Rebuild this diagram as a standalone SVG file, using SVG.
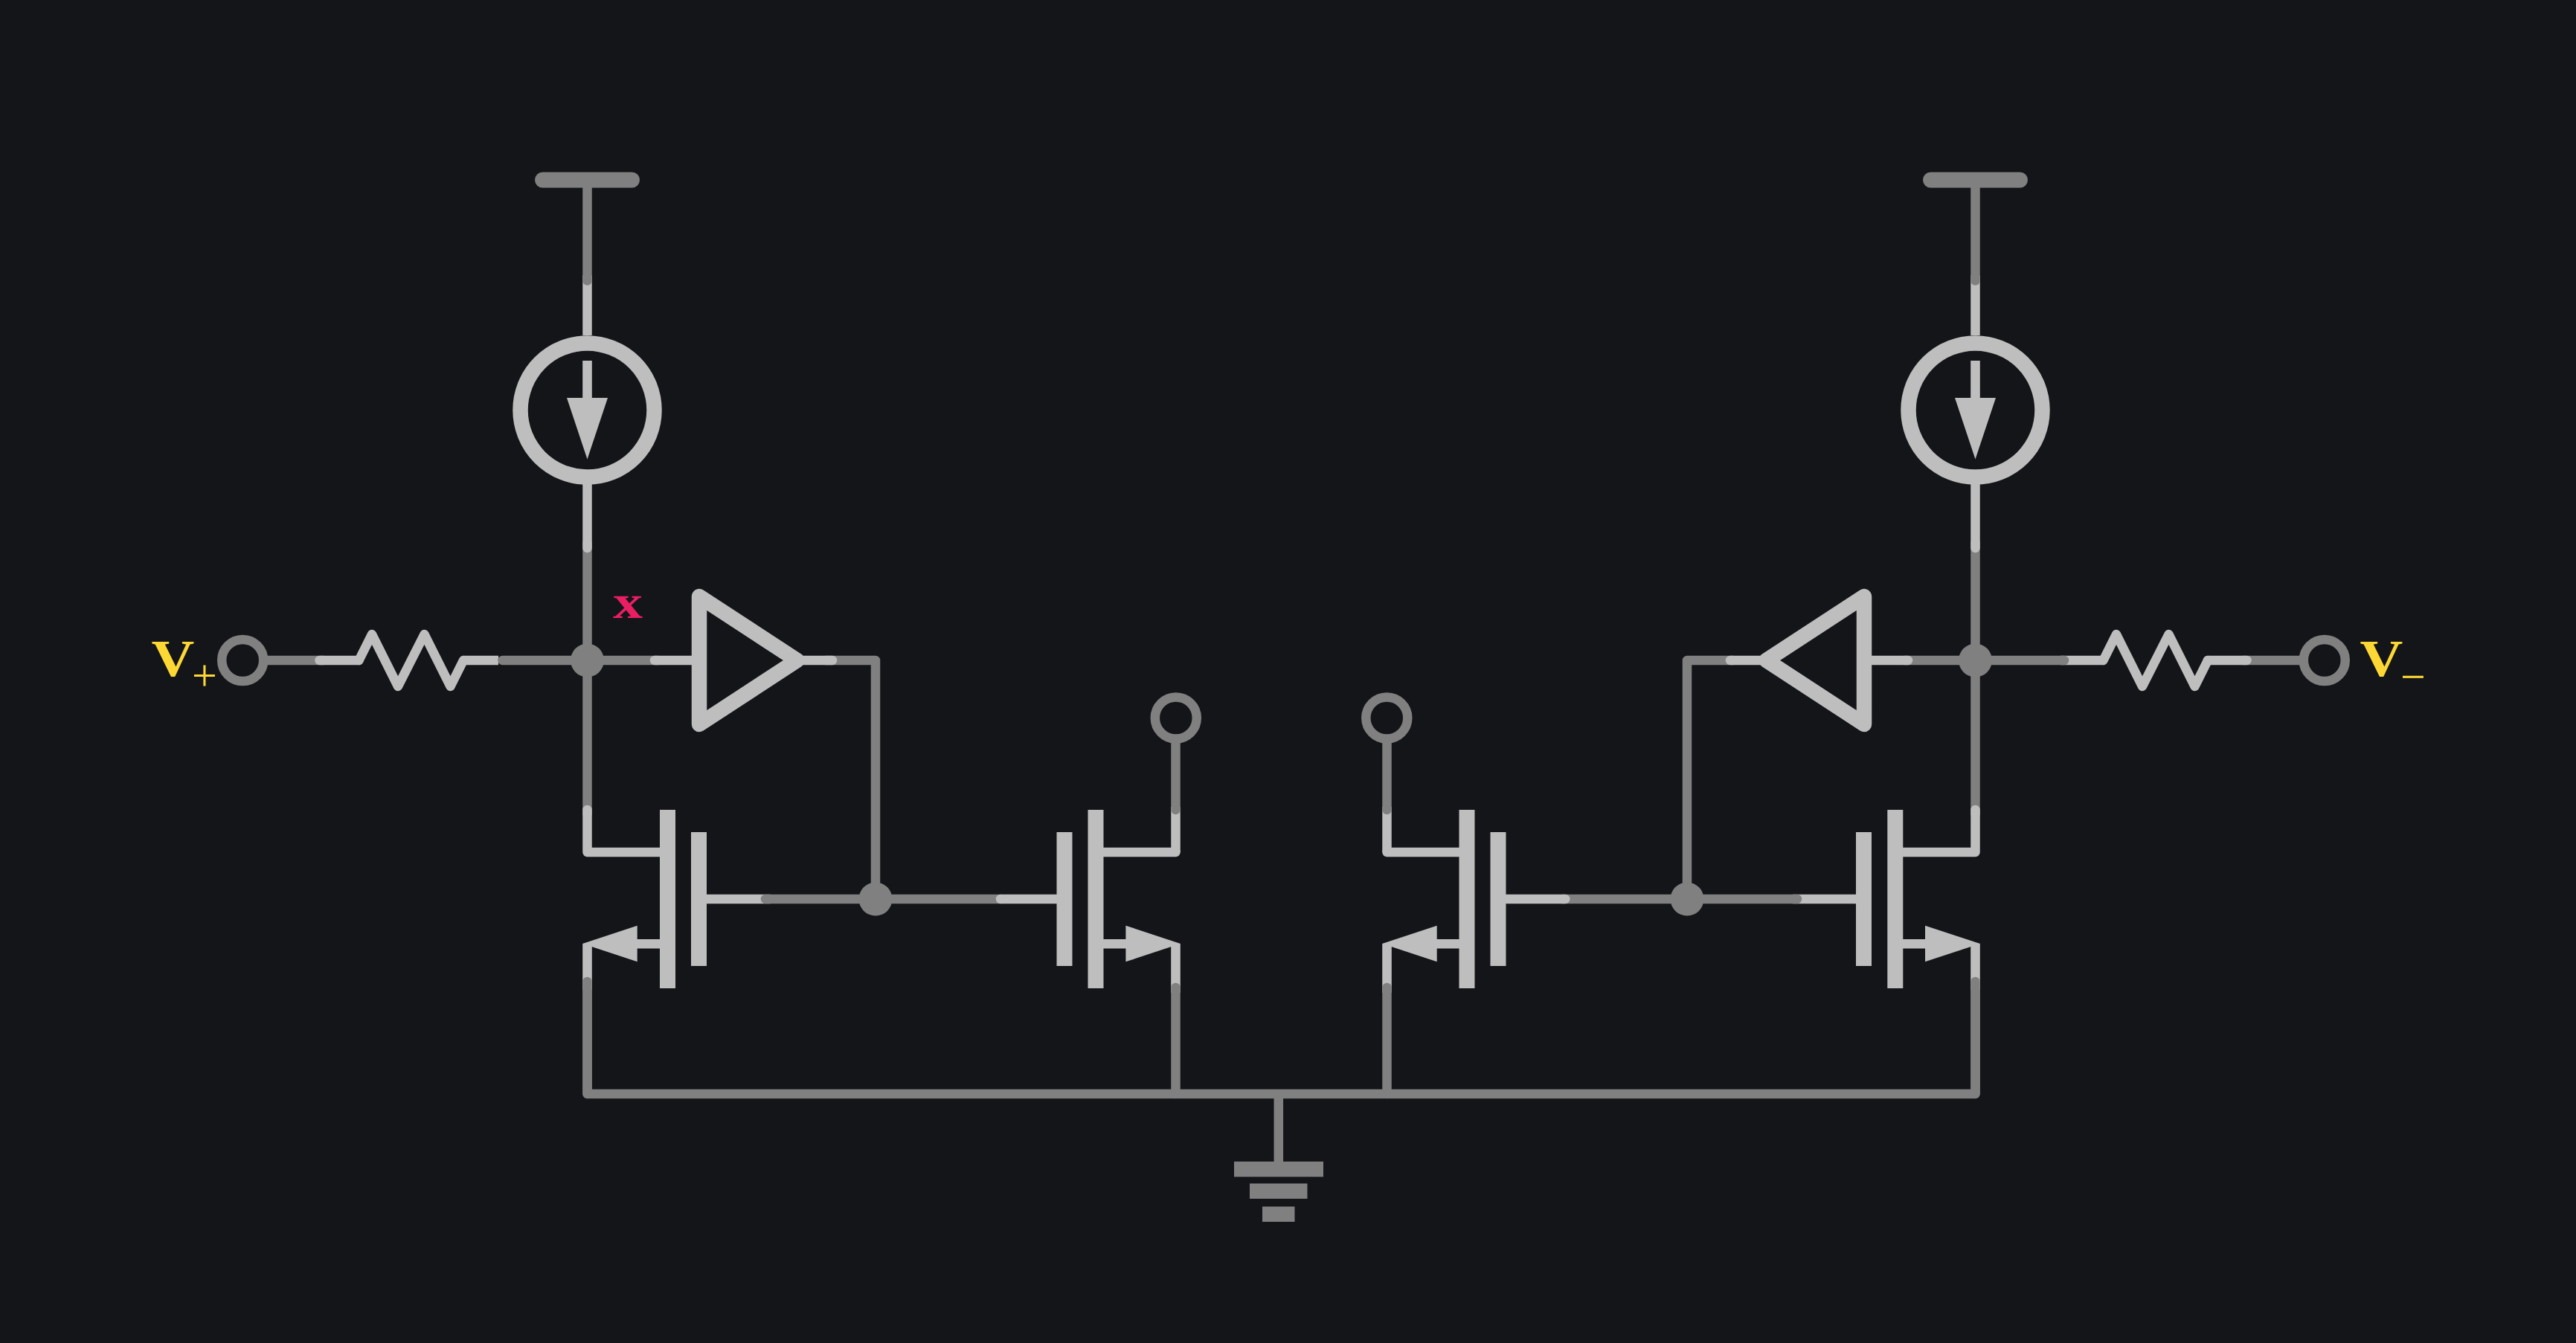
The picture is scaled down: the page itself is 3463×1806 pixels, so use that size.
<svg xmlns="http://www.w3.org/2000/svg" width="3463" height="1806" viewBox="0 0 3463 1806">
<style>
.d{fill:none;stroke:#808080;stroke-width:12.5;stroke-linecap:round;stroke-linejoin:round}
.l{fill:none;stroke:#bebebe;stroke-width:12.5;stroke-linecap:round;stroke-linejoin:round}
.b{stroke-linecap:butt}
.lf{fill:#bebebe}
.df{fill:#808080}
.src{fill:none;stroke:#bebebe;stroke-width:20.5}
.amp{fill:none;stroke:#bebebe;stroke-width:20.5;stroke-linejoin:round}
.term{fill:none;stroke:#808080;stroke-width:12.5}
.lab{font-family:"Liberation Serif",serif;font-weight:700;font-size:69px;fill:#fdd835}
.sub{font-family:"Liberation Serif",serif;font-weight:400;font-size:60px;fill:#fdd835}
</style>
<rect width="3463" height="1806" fill="#131519"/>
<g id="connectors">
<!-- left rail -->
<path class="l b" d="M789.5 370V451"/>
<path class="d" d="M789.5 242V377.5"/>
<path class="d" d="M789.5 730V1095"/>
<path class="l" d="M789.5 651V737"/>
<path class="l" d="M789.5 1089V1146H887"/>
<path class="d" d="M789.5 1471V1320"/>
<path class="lf" d="M783.2 1269H795.8V1329a6.3 6.3 0 0 1-12.6 0Z"/>
<!-- right rail -->
<path class="l b" d="M2655.5 370V451"/>
<path class="d" d="M2655.5 242V377.5"/>
<path class="d" d="M2655.5 730V1095"/>
<path class="l" d="M2655.5 651V737"/>
<path class="l" d="M2655.5 1089V1146H2558"/>
<path class="d" d="M2655.5 1471V1320"/>
<path class="lf" d="M2649.2 1269H2661.8V1329a6.3 6.3 0 0 1-12.6 0Z"/>
<!-- left input -->
<path class="d" d="M360 888H435"/>
<path class="l" d="M429.5 888H482.5"/>
<path class="l b" d="M623 888H670"/>
<path class="d" d="M675.5 888H789.5"/>
<path class="d" d="M789.5 888H885"/>
<path class="l" d="M880 888H930"/>
<path class="d" d="M1110 888H1177V1209"/>
<path class="l" d="M1072 888H1119"/>
<!-- left gates -->
<path class="l" d="M950 1209H1035"/>
<path class="d" d="M1029 1209H1345"/>
<path class="l" d="M1345 1209H1420"/>
<!-- output left -->
<path class="l b" d="M1580.5 1085V1146"/>
<path class="l" d="M1580.5 1146H1483"/>
<path class="d" d="M1580.5 1000V1089"/>
<path class="lf" d="M1574.2 1269H1586.8V1335H1574.2Z"/>
<path class="d" d="M1580.5 1328V1471"/>
<!-- output right -->
<path class="l b" d="M1864.5 1085V1146"/>
<path class="l" d="M1864.5 1146H1962"/>
<path class="d" d="M1864.5 1000V1089"/>
<path class="lf" d="M1858.2 1269H1870.8V1335H1858.2Z"/>
<path class="d" d="M1864.5 1328V1471"/>
<!-- right gates -->
<path class="d" d="M2100 1209H2268"/>
<path class="l" d="M2025 1209H2104.3"/>
<path class="l b" d="M2410 1209H2495"/>
<path class="d" d="M2416 1209H2268"/>
<!-- right amp wires -->
<path class="d" d="M2330 888H2268V1209"/>
<path class="l" d="M2374 888H2326"/>
<path class="d" d="M2560 888H2655.5"/>
<path class="l" d="M2516 888H2565"/>
<!-- right input -->
<path class="l b" d="M2770 888H2827.5"/>
<path class="d" d="M2655.5 888H2775"/>
<path class="d" d="M3015 888H3095"/>
<path class="l" d="M2968 888H3020.5"/>
<!-- bus -->
<path class="d" d="M789.5 1320V1471H2655.5V1320"/>
<path class="d b" d="M1718.8 1471V1565"/>
</g>
<g id="vdd-left"><path d="M729.5 242H849.5" fill="none" stroke="#808080" stroke-width="21" stroke-linecap="round"/></g>
<g id="vdd-right"><path d="M2595.5 242H2715.5" fill="none" stroke="#808080" stroke-width="21" stroke-linecap="round"/></g>
<g id="source-left">
<circle class="src" cx="789.5" cy="551.5" r="90"/>
<rect class="lf" x="783.2" y="485" width="12.6" height="52"/>
<polygon class="lf" points="762,535 817,535 789.5,617.5"/>
</g>
<g id="source-right">
<circle class="src" cx="2655.5" cy="551.5" r="90"/>
<rect class="lf" x="2649.2" y="485" width="12.6" height="52"/>
<polygon class="lf" points="2628,535 2683,535 2655.5,617.5"/>
</g>
<g id="res-left"><path class="l" d="M482.5 888L500 853L535 923L570.5 853L605.5 923L623 888"/></g>
<g id="res-right"><path class="l" d="M2827.5 888L2845 853L2880 923L2915.5 853L2950.5 923L2968 888"/></g>
<g id="amp-left"><polygon class="amp" points="940,802 940,974 1071.5,888"/></g>
<g id="amp-right"><polygon class="amp" points="2506,802 2506,974 2374.5,888"/></g>
<g id="junctions">
<circle id="j1" class="df" cx="789.5" cy="888" r="22.5"/>
<circle id="j2" class="df" cx="1177" cy="1209" r="22.5"/>
<circle id="j3" class="df" cx="2268" cy="1209" r="22.5"/>
<circle id="j4" class="df" cx="2655.5" cy="888" r="22.5"/>
</g>
<g id="m1">
<rect class="lf" x="887" y="1089" width="21" height="240"/>
<rect class="lf" x="929" y="1119" width="21" height="180"/>
<rect class="lf" x="850" y="1263" width="40" height="12.5"/>
<polygon class="lf" points="783.2,1269 856.7,1244.7 856.7,1293.3"/>
</g>
<g id="m2">
<rect class="lf" x="1462.5" y="1089" width="21" height="240"/>
<rect class="lf" x="1420.5" y="1119" width="21" height="180"/>
<rect class="lf" x="1480" y="1263" width="40" height="12.5"/>
<polygon class="lf" points="1586.8,1269 1513.4,1244.7 1513.4,1293.3"/>
</g>
<g id="m3">
<rect class="lf" x="1961.5" y="1089" width="21" height="240"/>
<rect class="lf" x="2003.5" y="1119" width="21" height="180"/>
<rect class="lf" x="1925" y="1263" width="40" height="12.5"/>
<polygon class="lf" points="1858.2,1269 1931.7,1244.7 1931.7,1293.3"/>
</g>
<g id="m4">
<rect class="lf" x="2537.3" y="1089" width="21" height="240"/>
<rect class="lf" x="2495" y="1119" width="21" height="180"/>
<rect class="lf" x="2555" y="1263" width="40" height="12.5"/>
<polygon class="lf" points="2661.8,1269 2588,1244.7 2588,1293.3"/>
</g>
<g id="ground">
<rect class="df" x="1659" y="1562" width="120" height="20.5"/>
<rect class="df" x="1680" y="1591.5" width="77.5" height="20.5"/>
<rect class="df" x="1697" y="1622.5" width="43.5" height="20.5"/>
</g>
<g id="term-vplus"><circle class="term" cx="326.2" cy="888" r="28"/><text><tspan class="lab" x="203.6" y="909" textLength="57.8" lengthAdjust="spacingAndGlyphs">V</tspan><tspan class="sub" x="258" y="928">+</tspan></text></g>
<g id="term-vminus"><circle class="term" cx="3124.8" cy="888" r="28"/><text><tspan class="lab" x="3172.6" y="909" textLength="57.8" lengthAdjust="spacingAndGlyphs">V</tspan><tspan class="sub" x="3227" y="930">−</tspan></text></g>
<g id="term-out-left"><circle class="term" cx="1580.8" cy="965.5" r="28"/></g>
<g id="term-out-right"><circle class="term" cx="1864.3" cy="965.5" r="28"/></g>
<g id="label-x"><text x="824" y="831" font-family="Liberation Serif, serif" font-weight="700" font-size="63" fill="#e91e63" textLength="40" lengthAdjust="spacingAndGlyphs">x</text></g>
</svg>
